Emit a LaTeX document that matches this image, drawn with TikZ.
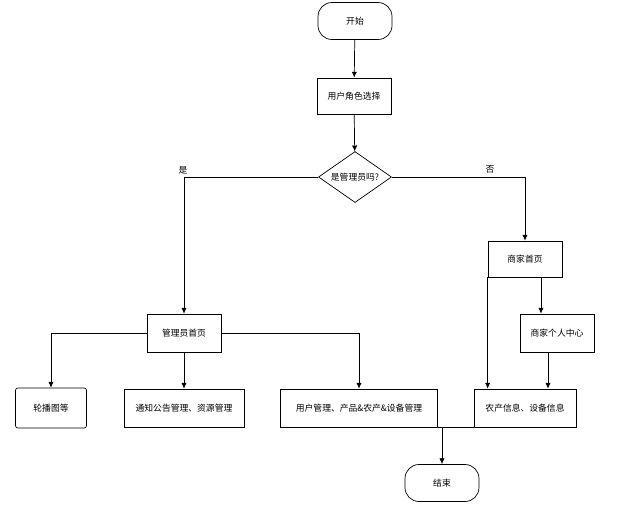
\documentclass[tikz,border=0pt]{standalone}
\usepackage{fontspec}
\setmainfont{Noto Sans CJK SC}
\usetikzlibrary{shapes.geometric,arrows.meta}

\tikzset{
  box/.style={rectangle,draw,line width=0.6pt,minimum height=1.1cm,inner sep=2pt},
  term/.style={rectangle,draw,line width=0.6pt,rounded corners=0.42cm,minimum width=2.22cm,minimum height=1.11cm},
  ask/.style={diamond,draw,line width=0.6pt,aspect=1.43,inner sep=0pt,minimum width=2.19cm,minimum height=1.53cm},
  flow/.style={line width=0.6pt,-{Latex[length=5pt,width=4.5pt]}},
  plain/.style={line width=0.6pt}
}

\begin{document}
\begin{tikzpicture}[x=0.03cm,y=-0.03cm,font=\fontsize{7.5pt}{9pt}\selectfont]

        \useasboundingbox (0,0) rectangle (639,518);

        \node[term] (start) at (355,21)  {开始};
        \node[box,minimum width=2.22cm,minimum height=1.08cm] (role) at (354,96) {用户角色选择};
        \node[ask] (isadmin) at (355,177) {是管理员吗?};

        \begin{scope}[every node/.style={box,minimum width=2.22cm,minimum height=1.14cm}]
          \node (admin)    at (184,333) {管理员首页};
          \node[minimum height=1.08cm] (merchant) at (525,259) {商家首页};
          \node (shop)     at (557,333) {商家个人中心};
        \end{scope}

        \begin{scope}[every node/.style={box,minimum height=1.14cm}]
          \node[minimum width=2.13cm,minimum height=1.2cm,rounded corners=2pt] (carousel) at (51,408) {轮播图等};
          \node[minimum width=3.6cm]  (notice)   at (184,408) {通知公告管理、资源管理};
          \node[minimum width=4.71cm] (usermgmt) at (359,408) {用户管理、产品\&农产\&设备管理};
          \node[minimum width=3.06cm] (info)     at (525,408) {农产信息、设备信息};
        \end{scope}

        \node[term] (end) at (442,483) {结束};

        \node (yes) at (183,170) {是};
        \node (no)  at (490,169) {否};

        \coordinate (join) at (end.north |- info.south);

        \draw[flow] (start) -- (role);
        \draw[flow] (role) -- (isadmin);
        \draw[flow] (isadmin.west) -| (admin.north);
        \draw[flow] (isadmin.east) -| (merchant.north);
        \draw[flow] (admin.west) -| (carousel.north);
        \draw[flow] (admin) -- (notice);
        \draw[flow] (admin.east) -| (usermgmt.north);
        \draw[flow] (merchant.south west) -- (merchant.south west |- info.north);
        \draw[flow] ([xshift=0.48cm]merchant.south) -- ([xshift=0.48cm]merchant.south |- shop.north);
        \draw[flow] ([xshift=-0.27cm]shop.south) -- ([xshift=-0.27cm]shop.south |- info.north);
        \draw[plain] (usermgmt.south) -- (info.south);
        \draw[flow] (join) -- (end.north);

\end{tikzpicture}
\end{document}
